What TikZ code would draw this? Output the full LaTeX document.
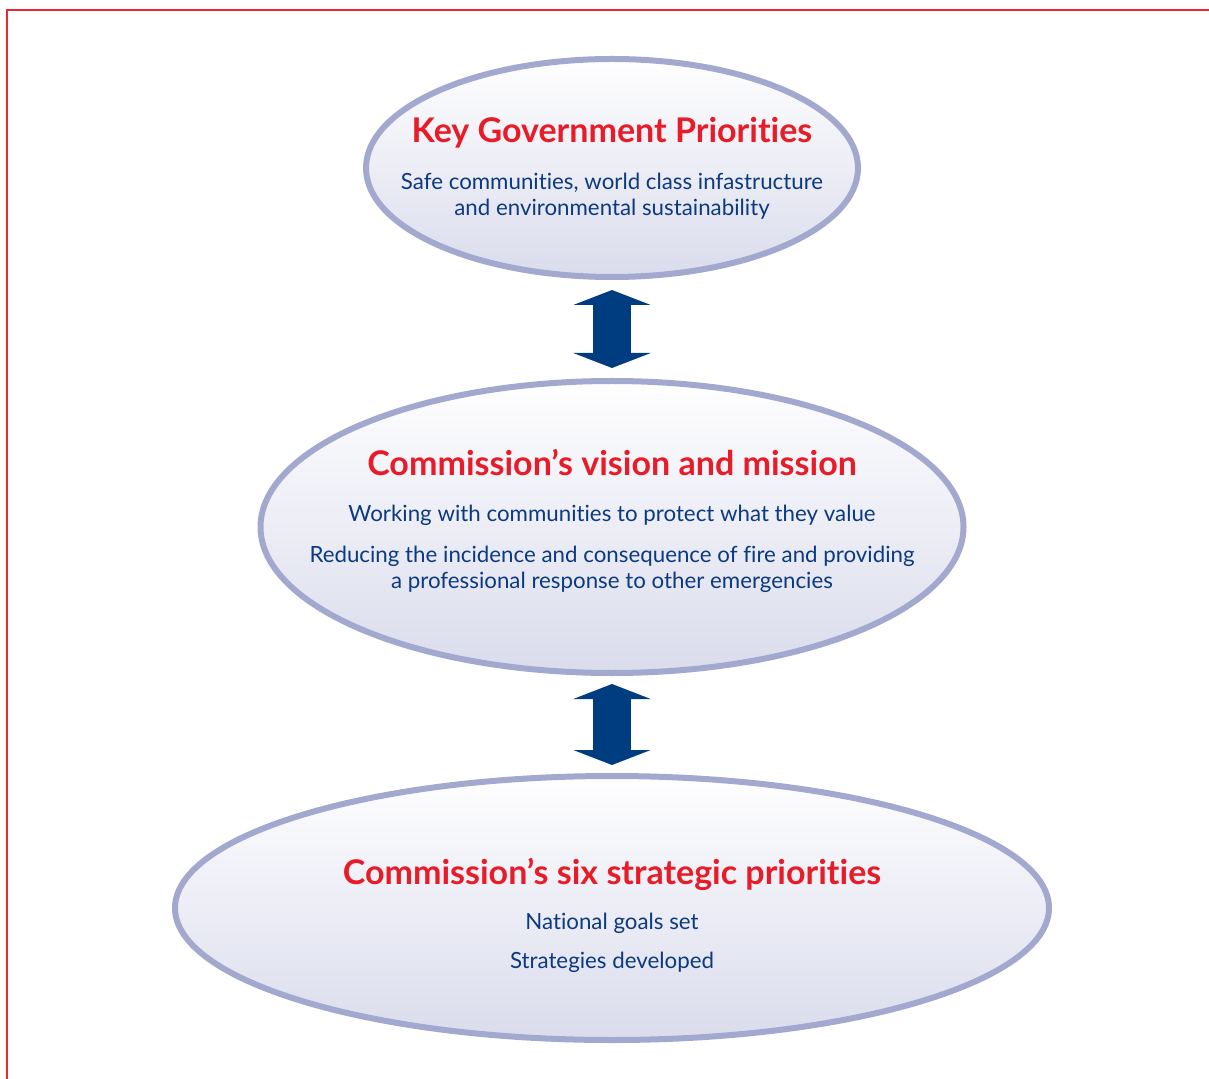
\documentclass[tikz,border=0pt]{standalone}
\usepackage{fontspec}
\setmainfont{Lato}[Ligatures=NoCommon]
\usetikzlibrary{shapes.geometric,arrows.meta}
\definecolor{framered}{RGB}{236,40,52}
\definecolor{ringblue}{RGB}{162,168,206}
\definecolor{fillblue}{RGB}{218,220,236}
\definecolor{arrowblue}{RGB}{0,60,128}
\definecolor{textblue}{RGB}{12,58,128}
\definecolor{titlered}{RGB}{232,28,40}

\tikzset{
 bubble/.style={ellipse, draw=ringblue, line width=3pt, outer sep=0pt,
  top color=white!97!fillblue, bottom color=fillblue},
 heading/.style={anchor=base, text=titlered, font=\fontsize{17}{20}\selectfont\bfseries},
 line/.style={anchor=base, text=textblue, font=\fontsize{11.15}{13}\selectfont},
 link/.style={draw=arrowblue, line width=19pt,
  {Triangle[length=7.5pt,width=38.5pt]}-{Triangle[length=7.5pt,width=38.5pt]}},
}

\begin{document}
\begin{tikzpicture}[x=0.5pt,y=-0.5pt]
 \useasboundingbox (0,0) rectangle (1209,1079);
 \draw[framered, line width=1pt] (7,1079) -- (7,10) -- (1209,10);

 \node[bubble, minimum width=246pt, minimum height=109pt] (gov) at (612,168) {};
 \node[bubble, minimum width=351.5pt, minimum height=146pt] (vision) at (612,527) {};
 \node[bubble, minimum width=437pt, minimum height=132pt] (six) at (612,908) {};

 \draw[link, shorten <=6.5pt, shorten >=6.5pt] (gov.south) -- (vision.north);
 \draw[link, shorten <=5.5pt, shorten >=5.5pt] (vision.south) -- (six.north);

 \node[heading] (govtitle) at (612,143) {Key Government Priorities};
 \node[line] (gov1) at (612,190) {Safe communities, world class infastructure};
 \node[line] (gov2) at (612,216) {and environmental sustainability};

 \node[heading] (visiontitle) at (612,476) {Commission’s vision and mission};
 \node[line] (vision1) at (612,522) {Working with communities to protect what they value};
 \node[line] (vision2) at (612,562) {Reducing the incidence and consequence of fire and providing};
 \node[line] (vision3) at (612,588) {a professional response to other emergencies};

 \node[heading] (sixtitle) at (612,884) {Commission’s six strategic priorities};
 \node[line] (six1) at (612,929) {National goals set};
 \node[line] (six2) at (612,968) {Strategies developed};
\end{tikzpicture}
\end{document}
